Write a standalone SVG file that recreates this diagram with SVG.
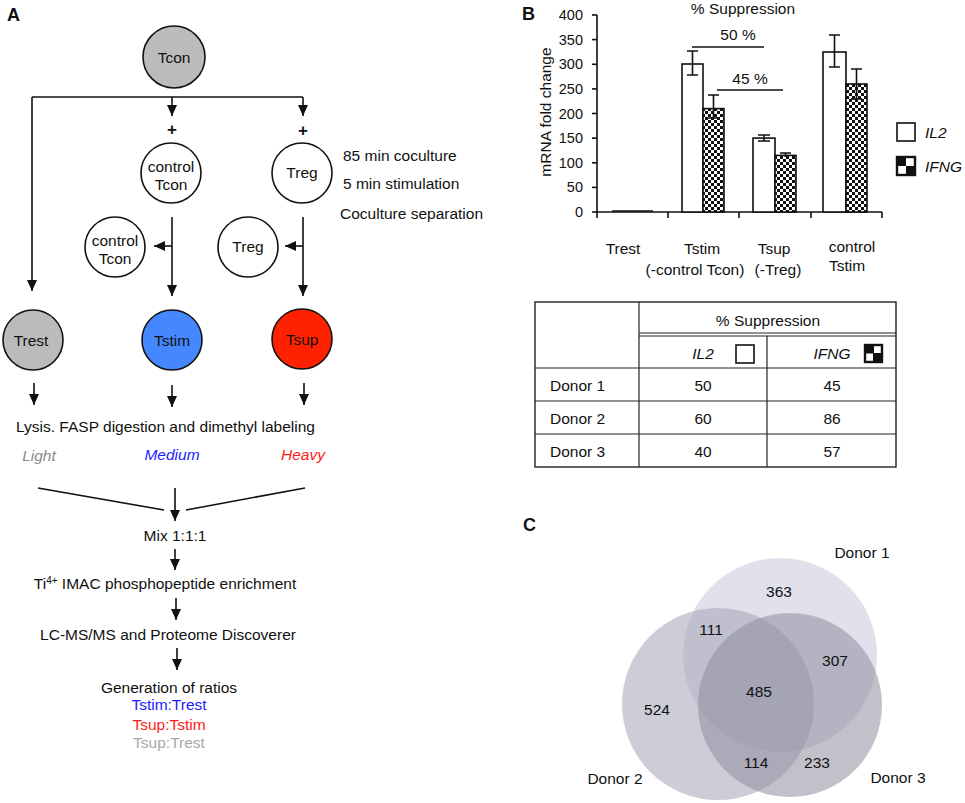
<svg xmlns="http://www.w3.org/2000/svg" width="965" height="803" viewBox="0 0 965 803">
<style>
text{font-family:"Liberation Sans",Arial,sans-serif;font-size:15.5px;fill:#111}
.b{font-weight:bold;font-size:18px}
.c{text-anchor:middle}
.i{font-style:italic}
.tk{font-size:14.5px}
.ln{stroke:#111;stroke-width:1.6;fill:none}
.ax{stroke:#111;stroke-width:1.6;fill:none}
.bar{stroke:#111;stroke-width:1.6}
.tb{stroke:#222;stroke-width:1.2;fill:none}
</style>
<defs>
<marker id="ah" markerUnits="userSpaceOnUse" markerWidth="12" markerHeight="12" viewBox="0 0 12 12" refX="11" refY="6" orient="auto">
<path d="M0,1 L11,6 L0,11 Z" fill="#111"/>
</marker>
<pattern id="chk" patternUnits="userSpaceOnUse" width="6" height="6">
<rect width="6" height="6" fill="#fff"/>
<rect width="3" height="3" fill="#111"/>
<rect x="3" y="3" width="3" height="3" fill="#111"/>
</pattern>
</defs>

<!-- Panel A -->
<text x="7" y="21" class="b">A</text>
<g id="connectors">
<polyline class="ln" points="32,97 303,97"/>
<line class="ln" x1="32" y1="97" x2="32" y2="291" marker-end="url(#ah)"/>
<line class="ln" x1="172" y1="97" x2="172" y2="116" marker-end="url(#ah)"/>
<line class="ln" x1="303" y1="97" x2="303" y2="116" marker-end="url(#ah)"/>
<line class="ln" x1="172" y1="217" x2="172" y2="296" marker-end="url(#ah)"/>
<line class="ln" x1="303" y1="217" x2="303" y2="296" marker-end="url(#ah)"/>
<line class="ln" x1="172" y1="246" x2="154" y2="246" marker-end="url(#ah)"/>
<line class="ln" x1="303" y1="246" x2="285" y2="246" marker-end="url(#ah)"/>
<line class="ln" x1="34" y1="383" x2="34" y2="405" marker-end="url(#ah)"/>
<line class="ln" x1="172" y1="385" x2="172" y2="407" marker-end="url(#ah)"/>
<line class="ln" x1="304" y1="383" x2="304" y2="405" marker-end="url(#ah)"/>
<line class="ln" x1="38" y1="488" x2="164" y2="510"/>
<line class="ln" x1="186" y1="510" x2="305" y2="488"/>
<line class="ln" x1="175" y1="488" x2="175" y2="521" marker-end="url(#ah)"/>
<line class="ln" x1="175" y1="549" x2="175" y2="570" marker-end="url(#ah)"/>
<line class="ln" x1="176" y1="598" x2="176" y2="620" marker-end="url(#ah)"/>
<line class="ln" x1="177" y1="648" x2="177" y2="670" marker-end="url(#ah)"/>
</g>
<text x="172" y="135" class="c b" style="font-size:17px">+</text>
<text x="303" y="136" class="c b" style="font-size:17px">+</text>

<g id="tcon"><circle cx="174" cy="57" r="31" fill="#bbbbbb" stroke="#111" stroke-width="1.6"/><text x="174" y="63" class="c">Tcon</text></g>
<g id="ctcon1"><circle cx="171" cy="173" r="30" fill="#fff" stroke="#111" stroke-width="1.6"/><text x="171" y="172" class="c">control</text><text x="171" y="190" class="c">Tcon</text></g>
<g id="treg1"><circle cx="302" cy="173" r="30" fill="#fff" stroke="#111" stroke-width="1.6"/><text x="302" y="178" class="c">Treg</text></g>
<text x="343" y="161">85 min coculture</text>
<text x="343" y="189">5 min stimulation</text>
<text x="340" y="219">Coculture separation</text>
<g id="ctcon2"><circle cx="115" cy="247" r="30" fill="#fff" stroke="#111" stroke-width="1.6"/><text x="115" y="246" class="c">control</text><text x="115" y="264" class="c">Tcon</text></g>
<g id="treg2"><circle cx="248" cy="247" r="30" fill="#fff" stroke="#111" stroke-width="1.6"/><text x="248" y="252" class="c">Treg</text></g>
<g id="trest"><circle cx="33" cy="340" r="30" fill="#bbbbbb" stroke="#111" stroke-width="1.6"/><text x="31" y="346" class="c">Trest</text></g>
<g id="tstim"><circle cx="172" cy="340" r="30" fill="#4487ff" stroke="#111" stroke-width="1.6"/><text x="172" y="346" class="c">Tstim</text></g>
<g id="tsup"><circle cx="302" cy="339" r="30" fill="#ff2200" stroke="#111" stroke-width="1.6"/><text x="302" y="345" class="c">Tsup</text></g>

<text x="16" y="432">Lysis. FASP digestion and dimethyl labeling</text>
<text x="39" y="461" class="c i" style="fill:#8a8a8a">Light</text>
<text x="172" y="460" class="c i" style="fill:#1a1aff">Medium</text>
<text x="303" y="460" class="c i" style="fill:#ff1a1a">Heavy</text>
<text x="175" y="541" class="c">Mix 1:1:1</text>
<text x="165" y="589" class="c">Ti<tspan dy="-5" style="font-size:10px">4+</tspan><tspan dy="5"> IMAC phosphopeptide enrichment</tspan></text>
<text x="168" y="640" class="c">LC-MS/MS and Proteome Discoverer</text>
<text x="169" y="693" class="c">Generation of ratios</text>
<text x="169" y="710" class="c" style="fill:#1a1aff">Tstim:Trest</text>
<text x="169" y="730" class="c" style="fill:#ff1a1a">Tsup:Tstim</text>
<text x="169" y="748" class="c" style="fill:#a8a8a8">Tsup:Trest</text>

<!-- Panel B -->
<text x="522" y="20" class="b">B</text>
<text x="743" y="14" class="c">% Suppression</text>
<g id="chart">
<line class="ax" x1="597" y1="15" x2="597" y2="212"/>
<line class="ax" x1="597" y1="212" x2="882" y2="212"/>
<g class="ax">
<line x1="592" y1="15" x2="597" y2="15"/><line x1="592" y1="39.6" x2="597" y2="39.6"/>
<line x1="592" y1="64.3" x2="597" y2="64.3"/><line x1="592" y1="88.9" x2="597" y2="88.9"/>
<line x1="592" y1="113.5" x2="597" y2="113.5"/><line x1="592" y1="138.1" x2="597" y2="138.1"/>
<line x1="592" y1="162.8" x2="597" y2="162.8"/><line x1="592" y1="187.4" x2="597" y2="187.4"/>
<line x1="592" y1="212" x2="597" y2="212"/>
<line x1="597" y1="212" x2="597" y2="218"/><line x1="668" y1="212" x2="668" y2="218"/>
<line x1="739" y1="212" x2="739" y2="218"/><line x1="811" y1="212" x2="811" y2="218"/>
<line x1="882" y1="212" x2="882" y2="218"/>
</g>
<g style="text-anchor:end">
<text x="583" y="20" class="tk">400</text><text x="583" y="44.6" class="tk">350</text><text x="583" y="69.3" class="tk">300</text>
<text x="583" y="93.9" class="tk">250</text><text x="583" y="118.5" class="tk">200</text><text x="583" y="143.1" class="tk">150</text>
<text x="583" y="167.8" class="tk">100</text><text x="583" y="192.4" class="tk">50</text><text x="583" y="217" class="tk">0</text>
</g>
<text transform="translate(551,112) rotate(-90)" class="c">mRNA fold change</text>
<line x1="612" y1="211" x2="653" y2="211" stroke="#111" stroke-width="1.6"/>
<rect class="bar" x="682" y="64" width="21" height="148" fill="#fff"/>
<rect class="bar" x="703" y="108.6" width="21" height="103.4" fill="url(#chk)"/>
<rect class="bar" x="753" y="138.1" width="22" height="73.9" fill="#fff"/>
<rect class="bar" x="775" y="155.4" width="21" height="56.6" fill="url(#chk)"/>
<rect class="bar" x="823" y="52" width="23" height="160" fill="#fff"/>
<rect class="bar" x="846" y="84" width="21" height="128" fill="url(#chk)"/>
<g class="ax">
<path d="M692.5,51 V75 M687,51 H698 M687,75 H698"/>
<path d="M713.5,95 V118 M708,95 H719 M708,118 H719"/>
<path d="M764,135 V141 M758,135 H770 M758,141 H770"/>
<path d="M785.5,153 V157 M780,153 H791"/>
<path d="M834.5,35 V67 M829,35 H840 M829,67 H840"/>
<path d="M856.5,69 V99 M851,69 H862 M851,99 H862"/>
<line x1="692" y1="47" x2="764" y2="47"/>
<line x1="717" y1="90" x2="783" y2="90"/>
</g>
<text x="738" y="40" class="c">50 %</text>
<text x="750" y="84" class="c">45 %</text>
<text x="623" y="254" class="c">Trest</text>
<text x="702" y="254" class="c">Tstim</text>
<text x="695" y="275" class="c">(-control Tcon)</text>
<text x="774" y="254" class="c">Tsup</text>
<text x="778" y="275" class="c">(-Treg)</text>
<text x="852" y="252" class="c">control</text>
<text x="847" y="271" class="c">Tstim</text>
<rect x="897" y="123" width="18" height="18" fill="#fff" stroke="#111" stroke-width="1.6"/>
<text x="925" y="138" class="i">IL2</text>
<g id="leg2">
<rect x="897" y="157" width="18" height="18" fill="#fff" stroke="#111" stroke-width="2.4"/>
<rect x="898" y="158" width="8" height="8" fill="#111"/>
<rect x="906" y="166" width="8" height="8" fill="#111"/>
</g>
<text x="925" y="172" class="i">IFNG</text>
</g>

<g id="table">
<rect x="535" y="302" width="361" height="165" fill="none" stroke="#222" stroke-width="1.4"/>
<line class="tb" x1="639" y1="302" x2="639" y2="467"/>
<line class="tb" x1="639" y1="333" x2="896" y2="333"/>
<line class="tb" x1="639" y1="336" x2="896" y2="336"/>
<line class="tb" x1="767" y1="336" x2="767" y2="467"/>
<line class="tb" x1="535" y1="368" x2="896" y2="368"/>
<line class="tb" x1="535" y1="401" x2="896" y2="401"/>
<line class="tb" x1="535" y1="434" x2="896" y2="434"/>
<text x="768" y="326" class="c">% Suppression</text>
<text x="703" y="359" class="c i">IL2</text>
<rect x="736" y="345" width="18" height="18" fill="#fff" stroke="#111" stroke-width="1.6"/>
<text x="832" y="359" class="c i">IFNG</text>
<rect x="865" y="345" width="17" height="17" fill="#fff" stroke="#111" stroke-width="2.4"/>
<rect x="866" y="346" width="8" height="7.5" fill="#111"/>
<rect x="873" y="353" width="8" height="8" fill="#111"/>
<text x="550" y="391">Donor 1</text><text x="703" y="391" class="c">50</text><text x="832" y="391" class="c">45</text>
<text x="550" y="424">Donor 2</text><text x="703" y="424" class="c">60</text><text x="832" y="424" class="c">86</text>
<text x="550" y="457">Donor 3</text><text x="703" y="457" class="c">40</text><text x="832" y="457" class="c">57</text>
</g>

<!-- Panel C -->
<text x="523" y="531" class="b">C</text>
<g id="venn">
<circle cx="780" cy="655" r="97" fill="#c8c8dc" fill-opacity="0.55"/>
<circle cx="718" cy="704" r="96" fill="#a4a4b6" fill-opacity="0.55"/>
<circle cx="790" cy="705" r="92" fill="#8e8e9e" fill-opacity="0.55"/>
</g>
<text x="862" y="558" class="c">Donor 1</text>
<text x="779" y="597" class="c">363</text>
<text x="711" y="635" class="c">111</text>
<text x="835" y="666" class="c">307</text>
<text x="759" y="697" class="c">485</text>
<text x="657" y="715" class="c">524</text>
<text x="756" y="768" class="c">114</text>
<text x="817" y="768" class="c">233</text>
<text x="615" y="784" class="c">Donor 2</text>
<text x="898" y="783" class="c">Donor 3</text>
</svg>
